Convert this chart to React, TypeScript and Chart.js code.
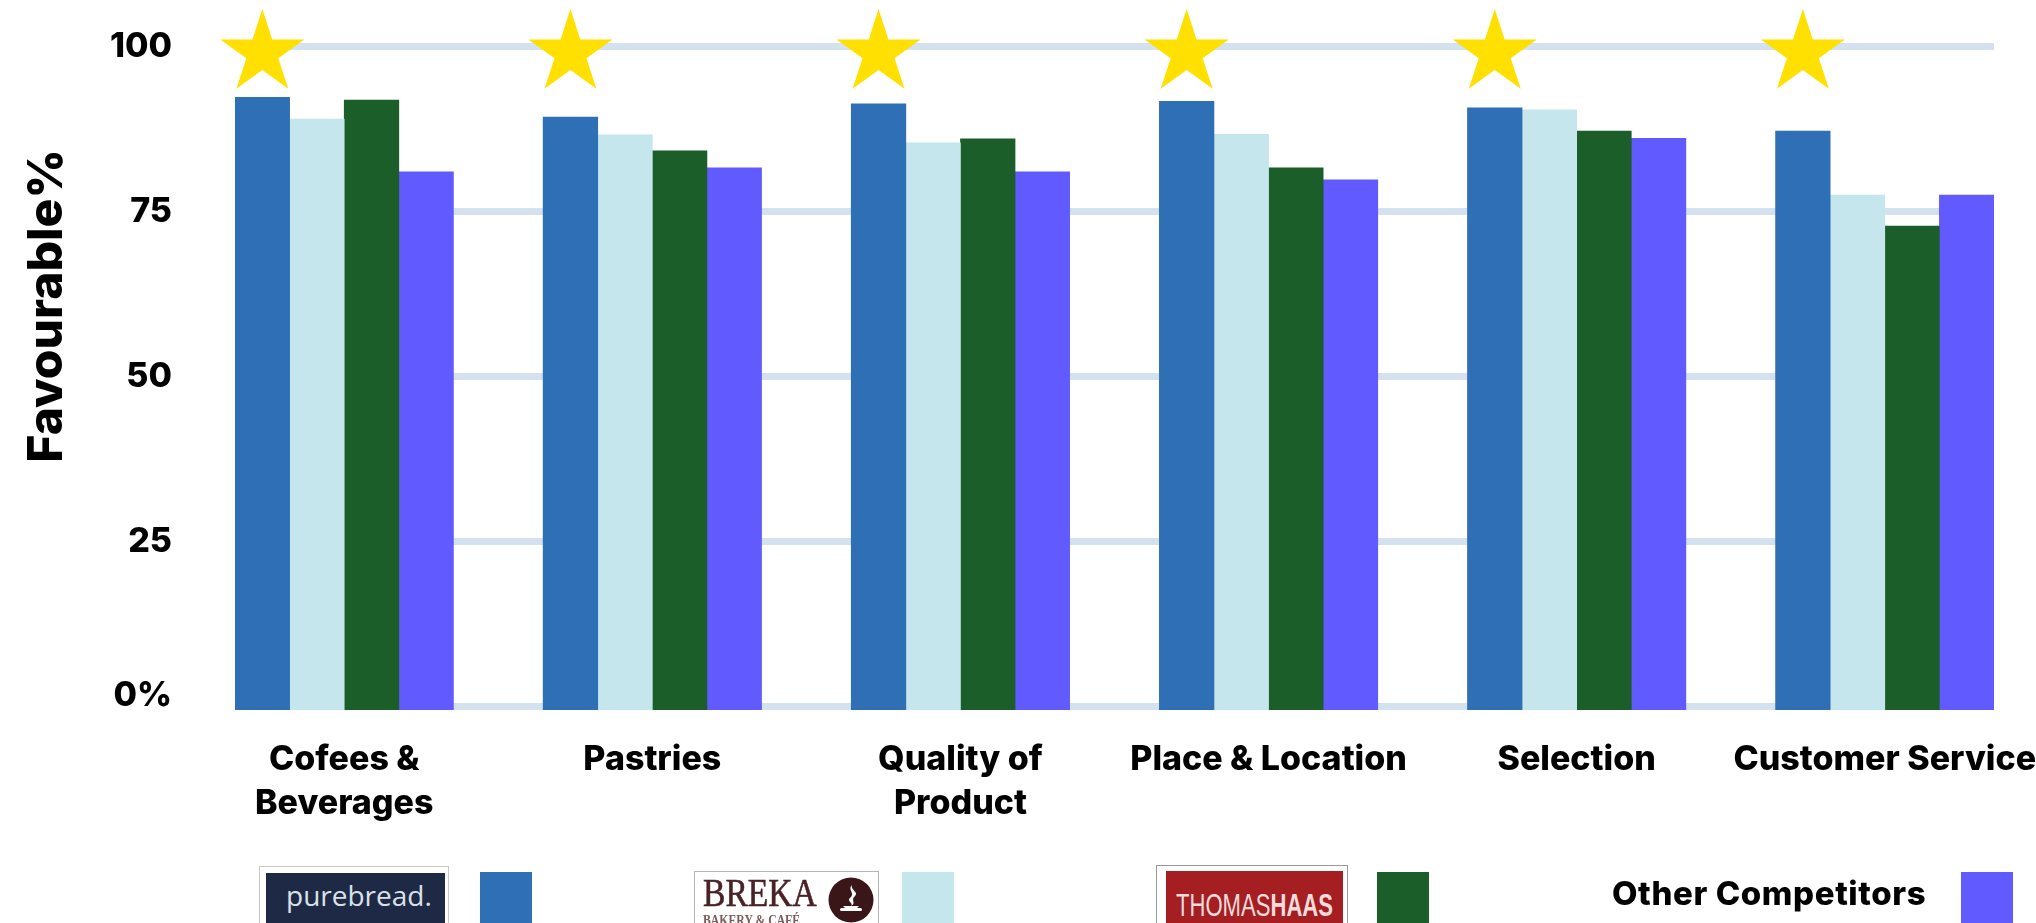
import React, { useEffect, useRef } from 'react';
import { Chart, registerables } from 'chart.js';

Chart.register(...registerables);

// ---- data ----
const categories: (string | string[])[] = [
  ['Cofees &', 'Beverages'],
  'Pastries',
  ['Quality of', 'Product'],
  'Place & Location',
  'Selection',
  'Customer Service',
];
const seriesNames = ['purebread', 'BREKA', 'Thomas Haas', 'Other Competitors'];
const purebread = [92.3, 89.3, 91.3, 91.7, 90.7, 87.2];
const breka = [89.0, 86.6, 85.4, 86.7, 90.4, 77.5];
const thomasHaas = [91.9, 84.2, 86.0, 81.6, 87.2, 72.8];
const otherCompetitors = [81.0, 81.6, 81.0, 79.8, 86.1, 77.5];
const yTicks = [0, 25, 50, 75, 100];
const STAR_LEVEL = 99; // star markers sit just under the 100 line

// ---- styling ----
const colors = ['#2F6FB5', '#C4E6EC', '#1B5E2A', '#605AFF'];
const GRID_COLOR = '#D4E2F0';
const STAR_COLOR = '#FFE000';
const FONT = 'Inter, "Noto Sans", sans-serif';
const Y_MIN = -0.53;

function drawStar(ctx: CanvasRenderingContext2D, cx: number, cy: number, R: number, r: number) {
  ctx.beginPath();
  for (let i = 0; i < 10; i++) {
    const rad = i % 2 === 0 ? R : r;
    const a = -Math.PI / 2 + (i * Math.PI) / 5;
    const x = cx + rad * Math.cos(a);
    const y = cy + rad * Math.sin(a);
    if (i === 0) ctx.moveTo(x, y);
    else ctx.lineTo(x, y);
  }
  ctx.closePath();
  ctx.fill();
}

const starPlugin = {
  id: 'leaderStars',
  afterDatasetsDraw(chart: any) {
    const meta = chart.getDatasetMeta(0);
    const y = chart.scales.y.getPixelForValue(STAR_LEVEL);
    const ctx = chart.ctx as CanvasRenderingContext2D;
    ctx.save();
    ctx.fillStyle = STAR_COLOR;
    meta.data.forEach((el: any) => drawStar(ctx, el.x, y, 44.2, 16.8));
    ctx.restore();
  },
};

const yTitlePlugin = {
  id: 'yTitle',
  afterDraw(chart: any) {
    const ctx = chart.ctx as CanvasRenderingContext2D;
    ctx.save();
    ctx.translate(62, 306);
    ctx.rotate(-Math.PI / 2);
    ctx.font = `800 48px ${FONT}`;
    ctx.fillStyle = '#000';
    ctx.textAlign = 'center';
    ctx.textBaseline = 'alphabetic';
    ctx.fillText('Favourable%', 0, 0);
    ctx.restore();
  },
};

const seriesValues = [purebread, breka, thomasHaas, otherCompetitors];

function Legend() {
  const swatch = (left: number, color: string) => (
    <div style={{ position: 'absolute', left, top: 872, width: 52, height: 56, background: color }} />
  );
  return (
    <>
      {/* purebread */}
      <div style={{ position: 'absolute', left: 259, top: 866, width: 190, height: 80, border: '1px solid #c9c9c9', boxSizing: 'border-box', background: '#fff' }} />
      <div style={{ position: 'absolute', left: 266, top: 873, width: 179, height: 70, background: '#1E2A45' }} />
      <div style={{ position: 'absolute', left: 286, top: 881, font: '400 28px "Open Sans", sans-serif', lineHeight: '28px', color: '#DCE1E9', whiteSpace: 'nowrap' }}>purebread.</div>
      {swatch(480, colors[0])}

      {/* BREKA */}
      <div style={{ position: 'absolute', left: 694, top: 871, width: 185, height: 80, border: '1px solid #b5b5b5', boxSizing: 'border-box', background: '#fff' }} />
      <div style={{ position: 'absolute', left: 703, top: 873, transform: 'scaleX(0.84)', transformOrigin: 'left top', whiteSpace: 'nowrap' }}>
        <div style={{ font: '400 40px "Liberation Serif", serif', lineHeight: '40px', color: '#4A2226', WebkitTextStroke: '0.6px #4A2226' }}>BREKA</div>
        <div style={{ font: '700 14px "Liberation Serif", serif', lineHeight: '14px', color: '#7A5A5A', marginTop: 1 }}>BAKERY &amp; CAFÉ</div>
      </div>
      <svg style={{ position: 'absolute', left: 828, top: 877 }} width={46} height={46} viewBox="0 0 46 46">
        <circle cx={23} cy={23} r={22.5} fill="#3A1618" />
        <path d="M24 8 C19 13 28 16 22 21 C18 24 26 26 23 29 C29 26 22 23 27 19 C31 15 22 13 24 8 Z" fill="#fff" />
        <rect x={12} y={31} width={22} height={3} rx={1.5} fill="#fff" />
        <path d="M15 29 L31 29 L29 31 L17 31 Z" fill="#fff" />
      </svg>
      {swatch(902, colors[1])}

      {/* Thomas Haas */}
      <div style={{ position: 'absolute', left: 1156, top: 865, width: 192, height: 80, border: '1px solid #9a9a9a', boxSizing: 'border-box', background: '#fff' }} />
      <div style={{ position: 'absolute', left: 1166, top: 871, width: 177, height: 70, background: '#A51E22' }} />
      <div style={{ position: 'absolute', left: 1176, top: 889, transform: 'scaleX(0.69)', transformOrigin: 'left top', whiteSpace: 'nowrap', font: '32px "Liberation Sans", sans-serif', lineHeight: '32px', color: '#F4DCDC' }}>
        <span style={{ fontWeight: 400 }}>THOMAS</span>
        <span style={{ fontWeight: 700 }}>HAAS</span>
      </div>
      {swatch(1377, colors[2])}

      {/* Other competitors */}
      <div style={{ position: 'absolute', left: 1612, top: 877, font: `800 33px ${FONT}`, lineHeight: '32px', letterSpacing: '0.6px', color: '#000', whiteSpace: 'nowrap' }}>Other Competitors</div>
      {swatch(1961, colors[3])}
    </>
  );
}

export default function App() {
  const ref = useRef<HTMLCanvasElement>(null);

  useEffect(() => {
    const chart = new Chart(ref.current as HTMLCanvasElement, {
      type: 'bar',
      data: {
        datasets: seriesNames.map((name, s) => ({
          label: name,
          data: seriesValues[s].map((y, i) => ({ x: i, y })),
          backgroundColor: colors[s],
          borderWidth: 0,
          barThickness: 54.6,
          base: Y_MIN,
        })),
      },
      options: {
        animation: false,
        responsive: false,
        devicePixelRatio: 1,
        layout: { padding: { top: 46.5, right: 42, left: 0, bottom: 0 } },
        plugins: { legend: { display: false }, tooltip: { enabled: false } },
        scales: {
          x: {
            type: 'linear',
            offset: false,
            min: -0.3545,
            max: 5.3545,
            grid: { display: false, drawTicks: false, offset: false },
            border: { display: false },
            afterBuildTicks: (scale: any) => {
              scale.ticks = categories.map((_, i) => ({ value: i }));
            },
            afterFit: (scale: any) => {
              scale.height = 213;
              scale.paddingLeft = 0;
              scale.paddingRight = 0;
            },
            ticks: {
              autoSkip: false,
              maxRotation: 0,
              minRotation: 0,
              padding: 28,
              color: '#000',
              font: { family: FONT, weight: '800', size: 34, lineHeight: 44 / 34 },
              callback: (v: any) => categories[v as number] as any,
            },
          },
          y: {
            type: 'linear',
            min: Y_MIN,
            max: 100,
            grid: { color: GRID_COLOR, lineWidth: 7, drawTicks: false },
            border: { display: false },
            afterBuildTicks: (scale: any) => {
              scale.ticks = yTicks.map((value) => ({ value }));
            },
            afterFit: (scale: any) => {
              scale.width = 235;
              scale.paddingTop = 0;
              scale.paddingBottom = 0;
            },
            ticks: {
              padding: 63,
              color: '#000',
              font: (c: any) => ({
                family: FONT,
                weight: '800',
                size: 34,
                lineHeight: c.tick && c.tick.value === 0 ? 0.62 : 1.2,
              }),
              callback: (v: any) => (v === 0 ? ['0%', ''] : String(v)) as any,
            },
          },
        },
      },
      plugins: [starPlugin, yTitlePlugin],
    } as any);
    return () => chart.destroy();
  }, []);

  return (
    <div style={{ position: 'absolute', left: 0, top: 0, width: 2036, height: 923, overflow: 'hidden', background: '#fff' }}>
      <canvas ref={ref} width={2036} height={923} style={{ position: 'absolute', left: 0, top: 0, width: 2036, height: 923 }} />
      <Legend />
    </div>
  );
}
